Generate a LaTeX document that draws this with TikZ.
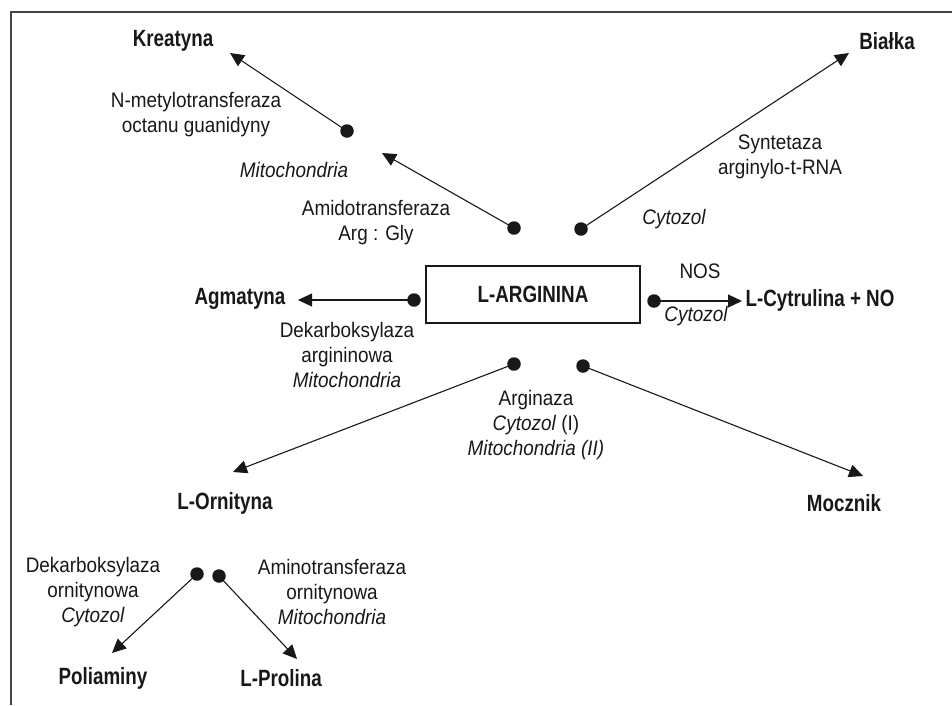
\documentclass[tikz,border=0pt]{standalone}
\usepackage{fontspec}
\setmainfont{Liberation Sans}[FakeStretch=0.9]
\newfontfamily\prodfont{Liberation Sans}[FakeStretch=0.8]
\usepackage{xcolor}
\usepackage{tikz}
\usetikzlibrary{arrows.meta}
\definecolor{ink}{HTML}{1A1718}
\definecolor{frame}{HTML}{444444}

\tikzset{
  prod/.style={font=\prodfont\bfseries\fontsize{23.5}{28}\selectfont, inner sep=0pt},
  enz/.style={font=\fontsize{21}{25}\selectfont, align=center, inner sep=0pt},
  loc/.style={font=\fontsize{21}{25}\selectfont\itshape, inner sep=0pt},
  dot/.style={circle, fill=ink, inner sep=0pt, minimum size=13.5pt},
}

\begin{document}
\begin{tikzpicture}[x=1pt,y=-1pt,->,>={Triangle[length=14pt,width=13pt]},line width=1.1pt,draw=ink,text=ink]
      \useasboundingbox (0,0) rectangle (952,705);
      \draw[-,frame,line width=1.5pt] (11,705) -- (11,12) -- (952,12);

      % main substrate
      \node[draw=ink, line width=1.1pt, minimum width=214pt, minimum height=57pt,
            font=\prodfont\bfseries\fontsize{23.5}{28}\selectfont] (arg) at (533,294.5) {L-ARGININA};

      % enzyme dots
      \node[dot] (dkre) at (347,131) {};
      \node[dot] (dami) at (514,228) {};
      \node[dot] (dbia) at (581,229) {};
      \node[dot] (dagm) at (414,300) {};
      \node[dot] (dnos) at (654,301) {};
      \node[dot] (dorn) at (514,364) {};
      \node[dot] (dmoc) at (583,366) {};
      \node[dot] (dpol) at (197,574) {};
      \node[dot] (dpro) at (219,576) {};

      % arrow ends
      \coordinate (tkre) at (230,53);
      \coordinate (tami) at (382,153);
      \coordinate (tbia) at (849,53);
      \coordinate (tagm) at (298,300);
      \coordinate (tnos) at (742,301);
      \coordinate (torn) at (233,472);
      \coordinate (tmoc) at (863,476);
      \coordinate (tpol) at (112,653);
      \coordinate (tpro) at (297,659);

      % products
      \node[prod] (kre) at (173,41) {Kreatyna};
      \node[prod] (bia) at (887,41) {Białka};
      \node[prod] (agm) at (240,299) {Agmatyna};
      \node[prod] (cyt) at (820,300) {L-Cytrulina + NO};
      \node[prod] (orn) at (225,503) {L-Ornityna};
      \node[prod] (moc) at (844,503) {Mocznik};
      \node[prod] (pol) at (103,678) {Poliaminy};
      \node[prod] (pro) at (281,678) {L-Prolina};

      % enzymes and places
      \node[enz] (emet) at (196,115) {N-metylotransferaza\\octanu guanidyny};
      \node[loc] (lmet) at (294,170) {Mitochondria};
      \node[enz] (eami) at (376,223) {Amidotransferaza\\Arg : Gly};
      \node[enz] (esyn) at (780,157) {Syntetaza\\arginylo-t-RNA};
      \node[loc] (lsyn) at (674,219) {Cytozol};
      \node[enz] (enos) at (700,271) {NOS};
      \node[loc] (lnos) at (696,316) {Cytozol};
      \node[enz] (edek) at (347,355) {Dekarboksylaza\\argininowa\\\textit{Mitochondria}};
      \node[enz] (earg) at (536,425) {Arginaza\\\textit{Cytozol} (I)\\\textit{Mitochondria (II)}};
      \node[enz] (edko) at (93,592) {Dekarboksylaza\\ornitynowa\\\textit{Cytozol}};
      \node[enz] (eamo) at (332,592) {Aminotransferaza\\ornitynowa\\\textit{Mitochondria}};

      \path (dkre.center) edge (tkre)
            (dami.center) edge (tami)
            (dbia.center) edge (tbia)
            (dagm.center) edge (tagm)
            (dnos.center) edge (tnos)
            (dorn.center) edge (torn)
            (dmoc.center) edge (tmoc)
            (dpol.center) edge (tpol)
            (dpro.center) edge (tpro)
            ;
    \end{tikzpicture}
\end{document}
